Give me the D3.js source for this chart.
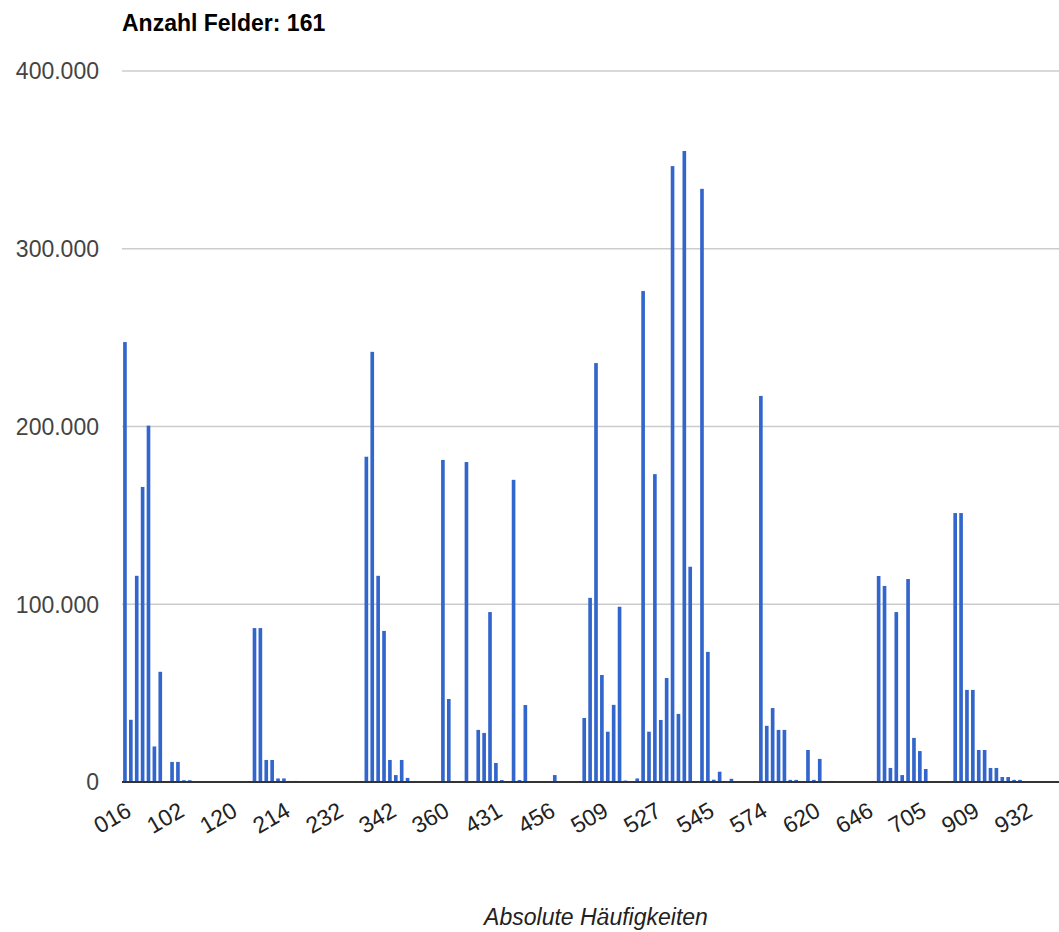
<!DOCTYPE html>
<html>
<head>
<meta charset="utf-8">
<script src="https://cdn.jsdelivr.net/npm/d3@7"></script>
<style>
  body { margin: 0; background: #fff; }
  text { font-family: Arial, "Liberation Sans", sans-serif; }
</style>
</head>
<body>
<script>
// chart title and axis title
var title = "Anzahl Felder: 161";
var xTitle = "Absolute Häufigkeiten";

// every 9th category gets a label on the x axis
var tickLabels = ["016", "102", "120", "214", "232", "342", "360", "431", "456",
                  "509", "527", "545", "574", "620", "646", "705", "909", "932"];
var labelEvery = 9;

// y axis ticks
var yTicks = [0, 100000, 200000, 300000, 400000];

// bar values, one per field (161 fields)
var values = [
  247500, 35000, 116000, 166000, 200500, 20000, 62000, 0, 11300, 11300,
  1000, 1000, 0, 0, 0, 0, 0, 0, 0, 0,
  0, 0, 86600, 86600, 12400, 12400, 2000, 2000, 600, 600,
  0, 0, 0, 0, 0, 0, 0, 0, 0, 0,
  0, 183000, 242000, 116000, 85000, 12400, 3900, 12400, 2300, 0,
  0, 0, 0, 0, 181200, 46700, 0, 0, 180000, 0,
  29300, 27600, 95600, 10700, 1100, 0, 170000, 1100, 43300, 0,
  0, 0, 0, 3900, 0, 0, 0, 0, 36000, 103600,
  235700, 60200, 28300, 43400, 98600, 800, 0, 2000, 276200, 28300,
  173200, 34900, 58500, 346500, 38300, 355000, 121100, 0, 333700, 73200,
  1300, 5800, 0, 1800, 500, 0, 0, 0, 217200, 31600,
  41600, 29300, 29300, 1200, 1200, 0, 18000, 1200, 13000, 0,
  600, 0, 0, 0, 0, 0, 0, 0, 115900, 110300,
  7900, 95600, 3900, 114200, 24800, 17400, 7300, 0, 0, 0,
  0, 151300, 151300, 51800, 51800, 18000, 18000, 7900, 7900, 2800,
  2800, 1200, 1200, 500, 500, 0, 0, 0, 0, 0,
  0
];
var categories = values.map(function(d, i) { return i; });

// size and plot area (the plot runs a little past the right edge)
var width = 1059, height = 932;
var plotLeft = 122, plotWidth = 948, plotTop = 71, plotBottom = 782;

var de = d3.formatLocale({decimal: ",", thousands: ".", grouping: [3], currency: ["", "€"]});
var fmt = de.format(",d");

var svg = d3.select("body")
    .append("svg")
    .attr("width", width)
    .attr("height", height);

var x = d3.scaleBand()
    .domain(categories)
    .range([plotLeft, plotLeft + plotWidth])
    .paddingInner(0.38)
    .paddingOuter(0.19);

var y = d3.scaleLinear()
    .domain([0, 400000])
    .range([plotBottom, plotTop]);

// gridlines
svg.append("g")
    .selectAll("line")
    .data(yTicks.slice(1))
    .enter()
    .append("line")
    .attr("x1", plotLeft)
    .attr("x2", plotLeft + plotWidth)
    .attr("y1", function(d) { return y(d); })
    .attr("y2", function(d) { return y(d); })
    .attr("stroke", "#cccccc")
    .attr("stroke-width", 1.5);

// y tick labels
svg.append("g")
    .selectAll("text")
    .data(yTicks)
    .enter()
    .append("text")
    .attr("x", 99)
    .attr("y", function(d) { return y(d); })
    .attr("dy", "0.36em")
    .attr("text-anchor", "end")
    .attr("font-size", 23)
    .attr("fill", "#444")
    .text(function(d) { return fmt(d); });

// bars
svg.append("g")
    .selectAll("rect")
    .data(categories.filter(function(i) { return values[i] > 0; }))
    .enter()
    .append("rect")
    .attr("x", function(i) { return x(i); })
    .attr("width", x.bandwidth())
    .attr("y", function(i) { return y(values[i]); })
    .attr("height", function(i) { return plotBottom - y(values[i]); })
    .attr("fill", "#3366cc");

// baseline
svg.append("line")
    .attr("x1", plotLeft)
    .attr("x2", plotLeft + plotWidth)
    .attr("y1", plotBottom)
    .attr("y2", plotBottom)
    .attr("stroke", "#333333")
    .attr("stroke-width", 2);

// x labels, rotated
svg.append("g")
    .selectAll("text")
    .data(tickLabels)
    .enter()
    .append("text")
    .attr("transform", function(d, i) {
        var cx = x(i * labelEvery) + x.bandwidth() / 2;
        return "translate(" + (cx + 8) + ",815) rotate(-30)";
    })
    .attr("text-anchor", "end")
    .attr("font-size", 23)
    .attr("fill", "#222")
    .text(function(d) { return d; });

// title
svg.append("text")
    .attr("x", plotLeft)
    .attr("y", 31)
    .attr("font-size", 23)
    .attr("font-weight", "bold")
    .attr("fill", "#000")
    .text(title);

// axis title
svg.append("text")
    .attr("x", plotLeft + plotWidth / 2)
    .attr("y", 925)
    .attr("text-anchor", "middle")
    .attr("font-size", 23)
    .attr("font-style", "italic")
    .attr("fill", "#222")
    .text(xTitle);
</script>
</body>
</html>
